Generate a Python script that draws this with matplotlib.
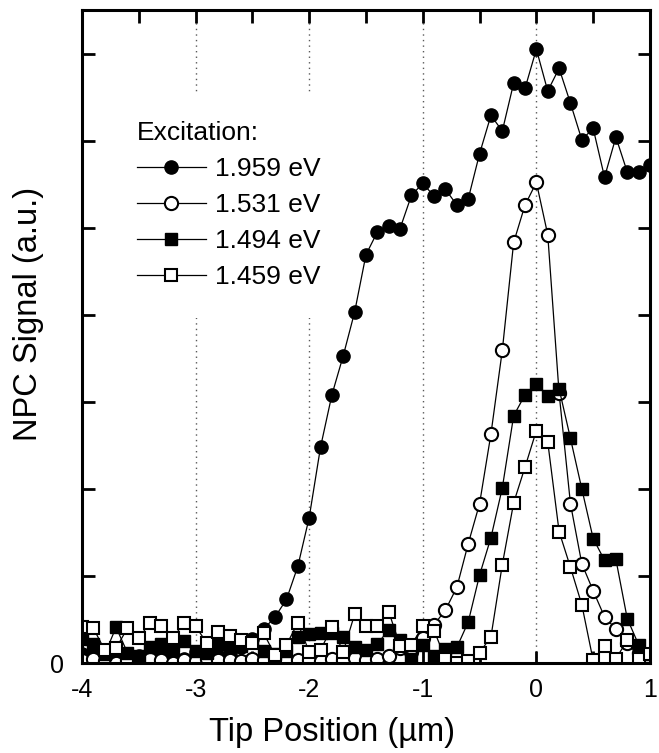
import numpy as np
import matplotlib
matplotlib.use("Agg")
import matplotlib.pyplot as plt

plt.rcParams['font.family'] = ['Liberation Sans', 'DejaVu Sans']

# tip positions (um), 0.1 um steps
tip_x = np.linspace(-4.0, 1.0, 51)

# NPC signal for each excitation energy (a.u.)
sig_1959 = [0.10, 0.08, 0.05, 0.12, 0.05, 0.08, 0.03, 0.10, 0.08, 0.05,
            0.13, 0.05, 0.08, 0.12, 0.18, 0.28, 0.39, 0.53, 0.73, 1.11,
            1.67, 2.48, 3.08, 3.53, 4.03, 4.69, 4.95, 5.02, 4.99, 5.37,
            5.51, 5.36, 5.44, 5.26, 5.33, 5.85, 6.29, 6.11, 6.66, 6.60,
            7.05, 6.57, 6.83, 6.43, 6.01, 6.14, 5.58, 6.04, 5.64, 5.64,
            5.72]
sig_1531 = [0.03, 0.05, 0.02, 0.00, 0.04, 0.02, 0.05, 0.03, 0.00, 0.04,
            0.02, 0.05, 0.03, 0.04, 0.02, 0.05, 0.03, 0.06, 0.02, 0.03,
            0.04, 0.02, 0.05, 0.03, 0.06, 0.04, 0.05, 0.08, 0.17, 0.13,
            0.29, 0.44, 0.61, 0.87, 1.37, 1.83, 2.63, 3.59, 4.83, 5.26,
            5.52, 4.92, 3.10, 1.83, 1.14, 0.83, 0.53, 0.39, 0.23, 0.12,
            0.05]
sig_1494 = [0.28, 0.22, 0.10, 0.41, 0.12, 0.08, 0.18, 0.22, 0.20, 0.25,
            0.14, 0.12, 0.22, 0.24, 0.20, 0.26, 0.14, 0.10, 0.14, 0.30,
            0.33, 0.34, 0.34, 0.30, 0.18, 0.15, 0.22, 0.38, 0.27, 0.05,
            0.21, 0.08, 0.16, 0.18, 0.47, 1.01, 1.44, 2.01, 2.84, 3.08,
            3.21, 3.07, 3.15, 2.58, 2.00, 1.43, 1.18, 1.19, 0.51, 0.21,
            0.10]
sig_1459 = [0.41, 0.40, 0.15, 0.17, 0.40, 0.29, 0.46, 0.43, 0.29, 0.46,
            0.42, 0.23, 0.36, 0.31, 0.26, 0.23, 0.34, 0.09, 0.21, 0.46,
            0.13, 0.15, 0.41, 0.13, 0.56, 0.42, 0.43, 0.59, 0.20, 0.21,
            0.42, 0.37, 0.05, 0.00, 0.02, 0.12, 0.30, 1.13, 1.84, 2.25,
            2.67, 2.54, 1.51, 1.10, 0.67, 0.03, 0.19, 0.05, 0.26, 0.05,
            0.10]

labels = ['1.959 eV', '1.531 eV', '1.494 eV', '1.459 eV']

fig = plt.figure(figsize=(6.59, 7.53), dpi=100)
ax = fig.add_axes([0.1244, 0.1195, 0.8619, 0.8672])

for xg in [-3, -2, -1, 0]:
    ax.axvline(xg, color='0.35', lw=1.0, ls=(0, (1, 3)), zorder=0)

ax.plot(tip_x, sig_1959, '-o', color='k', lw=0.9, ms=9.5, mfc='k', mec='k', label=labels[0])
ax.plot(tip_x, sig_1531, '-o', color='k', lw=0.9, ms=9.5, mfc='white', mec='k', mew=1.5, label=labels[1])
ax.plot(tip_x, sig_1494, '-s', color='k', lw=0.9, ms=8.5, mfc='k', mec='k', label=labels[2])
ax.plot(tip_x, sig_1459, '-s', color='k', lw=0.9, ms=8.5, mfc='white', mec='k', mew=1.5, label=labels[3])

ax.set_xlim(-4, 1)
ax.set_ylim(0, 7.5)
ax.set_xticks([-4, -3, -2, -1, 0, 1])
ax.set_xticklabels(['-4', '-3', '-2', '-1', '0', '1'])
ax.set_xticks([-3.5, -2.5, -1.5, -0.5, 0.5], minor=True)
ax.set_yticks(np.arange(0, 7.01, 1))
ax.set_yticklabels(['0'] + [''] * 7)

ax.tick_params(axis='both', which='both', direction='in', top=True, right=True,
               length=9, width=2, labelsize=18)
ax.tick_params(axis='x', which='major', pad=11)
ax.tick_params(axis='y', which='major', pad=13)
for s in ax.spines.values():
    s.set_linewidth(2.2)

ax.set_xlabel('Tip Position (\u00b5m)', fontsize=23.5)
ax.xaxis.set_label_coords(0.44, -0.083)
ax.set_ylabel('NPC Signal (a.u.)', fontsize=23.5)
ax.yaxis.set_label_coords(-0.066, 0.534)

# white legend box hides the dotted guides but sits under the data
leg = ax.legend(loc='upper left', bbox_to_anchor=(0.046, 0.874), frameon=True,
                facecolor='white', edgecolor='none', framealpha=1, fancybox=False,
                title='Excitation:', title_fontsize=19, fontsize=19,
                handlelength=2.6, handletextpad=0.35, labelspacing=0.45,
                borderpad=1.1, borderaxespad=0, alignment='left')
leg.set_zorder(1.5)

fig.savefig('out.png', dpi=100)
